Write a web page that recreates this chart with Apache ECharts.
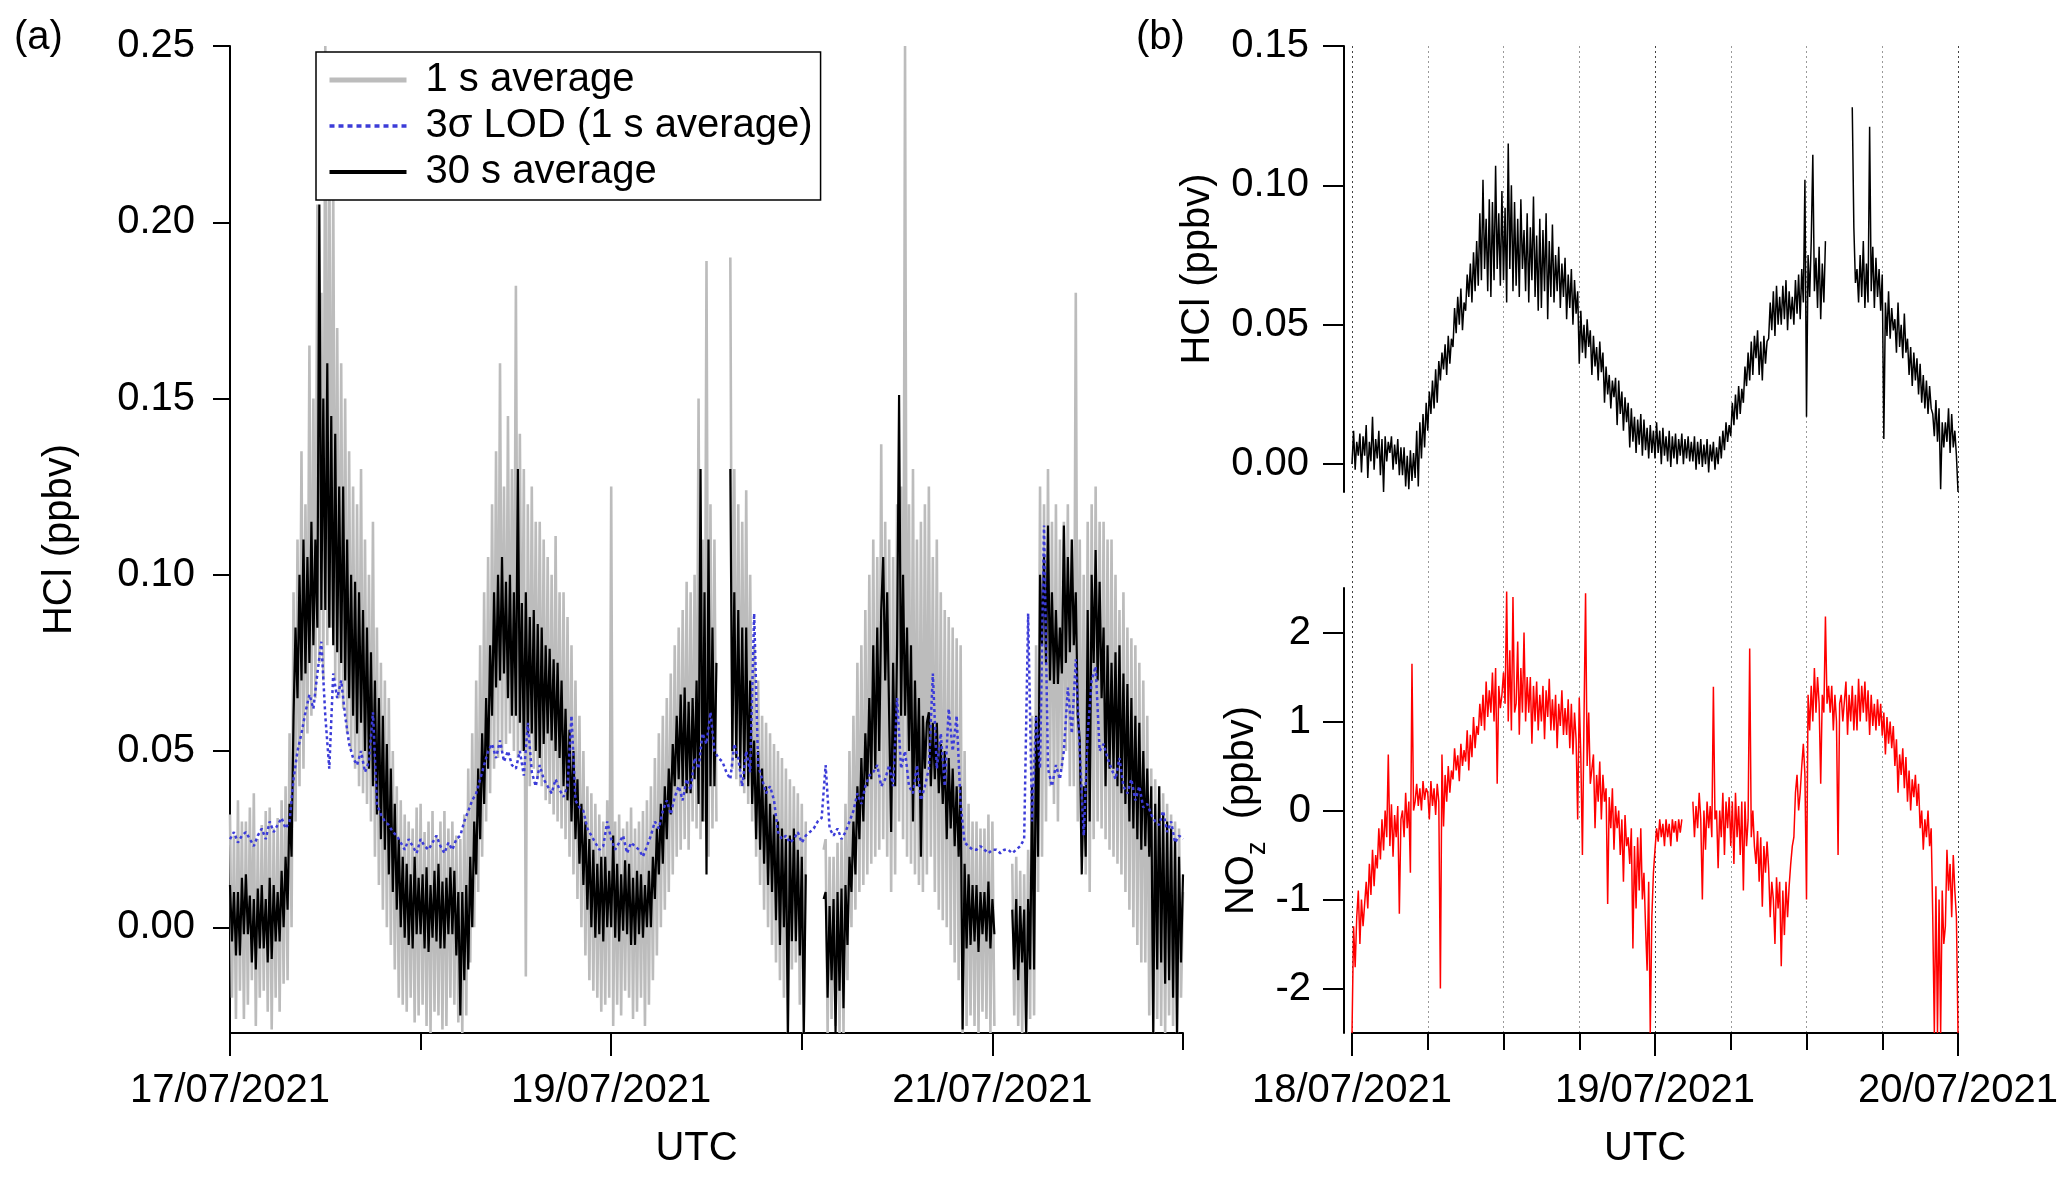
<!DOCTYPE html>
<html style="height: 100%">
<head>
    <meta charset="utf-8">
</head>
<body style="height: 100%; margin: 0; background-color: #fff;">
<div id="container" style="width: 2067px; height: 1179px;"></div>
<script type="text/javascript" src="https://cdn.jsdelivr.net/npm/echarts@6.0.0/dist/echarts.min.js"></script>
<script type="text/javascript">
// panel (a): hours after 17/07/2021 00:00 UTC
// 1 s and 30 s averages: one value every quarter hour
var stepHcl = 0.25;
var hcl1s = [
    0.032,-0.020,0.026,-0.026, 0.036,-0.018,0.030,-0.026, 0.030,-0.022,0.034,-0.015, 0.038,-0.028,0.025,-0.020, 0.029,-0.018,0.033,-0.024,
    0.034,-0.029,0.028,-0.020, 0.031,-0.024,0.036,-0.016, 0.040,-0.015,0.055,0.000, 0.095,0.030,0.110,0.040, 0.135,0.045,0.120,0.055,
    0.165,0.060,0.150,0.065, 0.205,0.075,0.180,0.070, 0.250,0.080,0.225,0.085, 0.210,0.070,0.170,0.065, 0.160,0.062,0.150,0.055,
    0.135,0.050,0.125,0.045, 0.120,0.040,0.130,0.038, 0.110,0.035,0.100,0.030, 0.115,0.020,0.085,0.012, 0.075,0.005,0.070,0.000,
    0.065,-0.005,0.050,-0.012, 0.040,-0.020,0.036,-0.022, 0.032,-0.024,0.030,-0.020, 0.028,-0.027,0.034,-0.025, 0.035,-0.022,0.027,-0.028,
    0.030,-0.030,0.033,-0.024, 0.026,-0.025,0.030,-0.029, 0.033,-0.028,0.028,-0.020, 0.030,-0.022,0.026,-0.027, 0.025,-0.030,0.032,-0.025,
    0.045,-0.010,0.055,0.000, 0.070,0.010,0.080,0.020, 0.095,0.030,0.105,0.038, 0.120,0.045,0.135,0.048, 0.160,0.050,0.125,0.052,
    0.145,0.055,0.130,0.050, 0.182,0.048,0.140,0.050, 0.130,-0.014,0.120,0.040, 0.125,0.045,0.115,0.042, 0.115,0.040,0.110,0.036,
    0.105,0.035,0.100,0.032, 0.111,0.030,0.095,0.028, 0.095,0.025,0.088,0.020, 0.080,0.015,0.070,0.008, 0.060,0.000,0.050,-0.008,
    0.040,-0.015,0.038,-0.018, 0.035,-0.020,0.032,-0.024, 0.030,-0.022,0.036,-0.020, 0.125,-0.028,0.030,-0.022, 0.032,-0.025,0.028,-0.018,
    0.030,-0.020,0.034,-0.026, 0.028,-0.024,0.030,-0.020, 0.033,-0.028,0.036,-0.022, 0.040,-0.015,0.048,-0.008, 0.055,0.000,0.060,0.005,
    0.065,0.010,0.072,0.015, 0.080,0.020,0.085,0.022, 0.090,0.025,0.098,0.022, 0.095,0.030,0.100,0.028, 0.150,0.025,0.110,0.030,
    0.189,0.020,0.120,0.028, 0.110,0.030,null,null, null,null,null,null, 0.190,0.045,0.130,0.042, 0.120,0.040,0.115,0.038,
    0.124,0.035,0.100,0.030, 0.080,0.020,0.070,0.012, 0.060,0.005,0.058,0.000, 0.055,-0.005,0.052,-0.010, 0.050,-0.015,0.048,-0.020,
    0.045,-0.030,0.042,-0.012, 0.040,-0.010,0.038,-0.022, 0.035,-0.030,0.030,null, null,null,null,null, null,null,null,0.022,
    0.025,-0.030,0.020,-0.026, 0.020,-0.028,0.024,-0.030, 0.025,-0.030,0.035,-0.015, 0.050,0.000,0.060,0.005, 0.075,0.010,0.080,0.012,
    0.090,0.015,0.100,0.018, 0.110,0.020,0.105,0.022, 0.137,0.025,0.115,0.020, 0.110,0.010,0.105,0.015, 0.120,0.030,0.125,0.025,
    0.250,0.020,0.120,0.018, 0.130,0.015,0.110,0.012, 0.115,0.010,0.120,0.015, 0.125,0.020,0.105,0.010, 0.110,0.005,0.095,0.002,
    0.090,0.000,0.088,-0.005, 0.085,-0.010,0.082,-0.015, 0.080,-0.030,0.050,-0.028, 0.035,-0.025,0.030,-0.028, 0.030,-0.030,0.028,-0.024,
    0.028,-0.026,0.032,-0.030, 0.030,-0.028,null,null, null,null,null,null, null,null,0.018,-0.025, 0.020,-0.028,0.016,-0.030,
    0.015,-0.030,0.022,-0.026, 0.060,-0.025,0.080,0.010, 0.125,0.020,0.120,0.030, 0.130,0.040,0.115,0.035, 0.120,0.030,0.110,0.045,
    0.115,0.050,0.120,0.040, 0.110,0.040,0.180,0.030, 0.110,0.020,0.100,0.015, 0.115,0.010,0.120,0.025, 0.125,0.030,0.115,0.028,
    0.115,0.025,0.110,0.022, 0.110,0.020,0.100,0.018, 0.090,0.015,0.095,0.010, 0.085,0.005,0.082,0.000, 0.080,-0.005,0.075,-0.010,
    0.070,-0.010,0.060,-0.025, 0.045,-0.030,0.042,-0.026, 0.040,-0.028,0.038,-0.030, 0.035,-0.025,0.032,-0.028, 0.030,-0.030,0.028,-0.020,
    0.010
];
var hcl30s = [
    0.012,-0.004,0.010,-0.008, 0.010,-0.008,0.014,-0.002, 0.015,-0.002,0.009,-0.010, 0.008,-0.012,0.011,-0.006, 0.012,-0.006,0.008,-0.010,
    0.014,-0.009,0.012,-0.004, 0.010,-0.004,0.016,0.000, 0.020,0.005,0.035,0.020, 0.060,0.085,0.065,0.100, 0.070,0.110,0.072,0.105,
    0.075,0.115,0.080,0.110, 0.085,0.205,0.090,0.150, 0.090,0.160,0.085,0.145, 0.080,0.140,0.078,0.125, 0.075,0.125,0.070,0.110,
    0.065,0.100,0.060,0.098, 0.055,0.095,0.058,0.090, 0.050,0.085,0.045,0.078, 0.040,0.070,0.032,0.065, 0.025,0.060,0.022,0.052,
    0.015,0.045,0.010,0.035, 0.005,0.025,0.000,0.020, -0.003,0.018,-0.005,0.015, -0.006,0.020,-0.002,0.014, -0.002,0.015,-0.006,0.017,
    -0.007,0.012,-0.003,0.016, -0.004,0.018,-0.006,0.013, -0.006,0.014,-0.002,0.017, -0.002,0.016,-0.008,0.010, -0.025,0.010,-0.015,0.012,
    -0.012,0.020,0.000,0.030, 0.015,0.045,0.025,0.055, 0.035,0.065,0.045,0.080, 0.060,0.095,0.068,0.100, 0.070,0.105,0.072,0.098,
    0.065,0.100,0.060,0.095, 0.060,0.130,0.058,0.092, 0.050,0.095,0.055,0.088, 0.055,0.090,0.050,0.086, 0.048,0.085,0.052,0.080,
    0.055,0.079,0.053,0.076, 0.050,0.075,0.048,0.070, 0.040,0.062,0.036,0.056, 0.030,0.050,0.025,0.042, 0.018,0.035,0.012,0.030,
    0.005,0.025,0.000,0.022, -0.003,0.018,-0.002,0.020, -0.004,0.020,0.000,0.016, 0.000,0.026,-0.003,0.018, -0.004,0.015,-0.001,0.019,
    -0.002,0.018,-0.005,0.014, -0.005,0.016,-0.002,0.015, -0.003,0.012,0.000,0.016, 0.000,0.020,0.008,0.028, 0.015,0.035,0.018,0.040,
    0.025,0.045,0.032,0.052, 0.040,0.060,0.042,0.066, 0.040,0.068,0.038,0.064, 0.038,0.065,0.042,0.070, 0.035,0.130,0.030,0.095,
    0.015,0.110,0.040,0.085, 0.040,0.075,null,null, null,null,null,null, 0.130,0.050,0.095,0.048, 0.090,0.045,0.085,0.042,
    0.085,0.040,0.070,0.035, 0.053,0.025,0.050,0.022, 0.045,0.018,0.040,0.012, 0.035,0.010,0.032,0.002, 0.030,-0.005,0.028,0.000,
    0.025,-0.030,0.026,-0.004, 0.028,-0.004,0.022,-0.008, 0.020,-0.030,0.015,null, null,null,null,null, null,null,null,0.008,
    0.010,-0.020,0.006,-0.015, 0.008,-0.030,0.010,-0.018, 0.011,-0.023,0.012,-0.005, 0.020,0.010,0.030,0.015, 0.040,0.025,0.048,0.030,
    0.055,0.040,0.065,0.042, 0.080,0.045,0.085,0.050, 0.090,0.105,0.070,0.095, 0.060,0.027,0.075,0.040, 0.080,0.151,0.060,0.100,
    0.060,0.085,0.050,0.080, 0.030,0.070,0.040,0.065, 0.020,0.060,0.045,0.058, 0.061,0.040,0.058,0.042, 0.058,0.038,0.052,0.035,
    0.050,0.025,0.048,0.028, 0.045,0.023,0.040,0.020, 0.040,-0.029,0.018,-0.006, 0.015,-0.005,0.012,-0.004, 0.012,-0.007,0.010,-0.002,
    0.010,-0.004,0.013,-0.006, 0.008,-0.002,null,null, null,null,null,null, null,null,0.005,-0.012, 0.008,-0.015,0.006,-0.010,
    0.005,-0.030,0.008,-0.012, 0.040,-0.012,0.060,0.020, 0.100,0.080,0.105,0.075, 0.114,0.070,0.095,0.069, 0.090,0.069,0.085,0.072,
    0.114,0.075,0.105,0.078, 0.110,0.080,0.095,0.060, 0.053,0.015,0.040,0.020, 0.090,0.030,0.100,0.075, 0.107,0.070,0.098,0.065,
    0.085,0.040,0.080,0.045, 0.075,0.045,0.078,0.040, 0.080,0.038,0.072,0.035, 0.069,0.030,0.065,0.028, 0.060,0.025,0.058,0.022,
    0.050,0.023,0.045,0.020, 0.040,-0.030,0.035,-0.012, 0.040,-0.010,0.032,-0.016, 0.030,-0.015,0.028,-0.020, 0.025,-0.030,0.020,-0.010,
    0.015
];
// 3 sigma LOD: one value every half hour
var stepLod = 0.5;
var lod3s = [
    0.025,0.027, 0.024,0.026, 0.027,0.025, 0.023,0.026, 0.028,0.025,
    0.030,0.027, 0.029,0.031, 0.028,0.030, 0.042,0.050, 0.055,0.061,
    0.066,0.062, 0.072,0.081, 0.060,0.045, 0.072,0.065, 0.070,0.060,
    0.052,0.048, 0.046,0.050, 0.044,0.047, 0.061,0.035, 0.032,0.030,
    0.029,0.027, 0.026,0.024, 0.022,0.025, 0.023,0.021, 0.025,0.023,
    0.022,0.024, 0.026,0.023, 0.021,0.024, 0.022,0.025, 0.026,0.030,
    0.033,0.036, 0.038,0.042, 0.046,0.050, 0.052,0.048, 0.053,0.047,
    0.050,0.046, 0.045,0.050, 0.043,0.058, 0.044,0.040, 0.046,0.042,
    0.040,0.038, 0.042,0.039, 0.037,0.040, 0.060,0.036, 0.034,0.033,
    0.028,0.026, 0.024,0.022, 0.023,0.030, 0.025,0.022, 0.024,0.026,
    0.021,0.024, 0.023,0.022, 0.020,0.023, 0.026,0.030, 0.028,0.033,
    0.036,0.032, 0.037,0.040, 0.036,0.042, 0.039,0.048, 0.045,0.055,
    0.052,0.061, 0.050,0.048, 0.047,0.044, 0.042,0.052, 0.048,0.040,
    0.050,0.044, 0.089,0.046, 0.042,0.038, 0.040,0.036, 0.027,0.025,
    0.026,0.024, 0.025,0.027, 0.024,0.026, 0.027,0.028, 0.030,0.031,
    0.046,0.028, 0.026,0.028, 0.025,0.027, 0.030,0.033, 0.038,0.035,
    0.040,0.043, 0.044,0.046, 0.040,0.042, 0.046,0.040, 0.065,0.045,
    0.050,0.040, 0.038,0.046, 0.036,0.040, 0.045,0.072, 0.045,0.055,
    0.040,0.062, 0.050,0.060, 0.035,0.024, 0.023,0.022, 0.022,0.023,
    0.022,0.021, 0.022,0.022, 0.021,0.022, 0.022,0.021, 0.022,0.023,
    0.025,0.089, 0.030,0.060, 0.045,0.114, 0.045,0.040, 0.046,0.042,
    0.050,0.068, 0.055,0.076, 0.050,0.026, 0.055,0.070, 0.074,0.050,
    0.052,0.048, 0.045,0.042, 0.048,0.040, 0.038,0.042, 0.036,0.040,
    0.034,0.035, 0.032,0.030, 0.029,0.033, 0.027,0.030, 0.024,0.026,
    0.025
];

// panel (b): hours after 18/07/2021 00:00 UTC, 8 values per hour
var stepB = 0.125;
var hclB = [
    0.000,0.012,-0.002,0.008,0.003,0.011,-0.003,0.010, 0.003,0.014,-0.005,0.008,0.001,0.017,-0.002,0.009,
    0.002,0.012,-0.004,0.009,-0.010,0.010,0.001,0.008, 0.004,0.010,-0.002,0.007,0.000,0.009,-0.004,0.006,
    -0.004,0.006,-0.008,0.003,-0.009,0.005,-0.006,0.004, -0.005,0.012,-0.008,0.015,0.002,0.018,0.006,0.022,
    0.012,0.026,0.018,0.030,0.020,0.034,0.022,0.037, 0.030,0.040,0.034,0.043,0.032,0.046,0.036,0.045,
    0.042,0.056,0.047,0.060,0.050,0.063,0.048,0.058, 0.055,0.068,0.060,0.072,0.058,0.076,0.062,0.080,
    0.064,0.090,0.066,0.102,0.070,0.088,0.062,0.095, 0.060,0.094,0.066,0.107,0.070,0.090,0.064,0.098,
    0.066,0.092,0.058,0.115,0.070,0.100,0.062,0.094, 0.064,0.088,0.060,0.095,0.070,0.084,0.062,0.090,
    0.058,0.085,0.066,0.096,0.060,0.082,0.055,0.088, 0.056,0.084,0.062,0.090,0.052,0.080,0.060,0.086,
    0.058,0.075,0.062,0.078,0.056,0.072,0.060,0.074, 0.052,0.068,0.056,0.070,0.050,0.066,0.054,0.062,
    0.036,0.055,0.040,0.050,0.038,0.052,0.042,0.048, 0.032,0.046,0.035,0.042,0.030,0.044,0.033,0.040,
    0.022,0.035,0.025,0.032,0.020,0.030,0.024,0.031, 0.014,0.030,0.018,0.026,0.012,0.024,0.015,0.022,
    0.006,0.020,0.008,0.017,0.004,0.016,0.007,0.018, 0.003,0.016,0.005,0.013,0.002,0.014,0.004,0.012,
    0.002,0.015,0.004,0.012,0.000,0.013,0.003,0.010, 0.001,0.012,-0.001,0.010,0.002,0.011,0.000,0.009,
    0.003,0.011,0.000,0.009,0.002,0.010,0.001,0.008, 0.001,0.010,-0.002,0.008,0.000,0.009,-0.001,0.007,
    0.000,0.009,-0.003,0.007,0.001,0.008,-0.002,0.006, 0.000,0.010,0.002,0.012,0.005,0.015,0.008,0.014,
    0.010,0.022,0.014,0.025,0.016,0.028,0.018,0.027, 0.022,0.035,0.028,0.040,0.030,0.044,0.032,0.046,
    0.038,0.048,0.032,0.044,0.030,0.046,0.036,0.044, 0.045,0.058,0.048,0.062,0.046,0.064,0.050,0.060,
    0.050,0.064,0.052,0.066,0.048,0.062,0.052,0.060, 0.050,0.066,0.054,0.068,0.052,0.070,0.058,0.102,
    0.017,0.075,0.060,0.080,0.111,0.062,0.074,0.056, 0.078,0.052,0.072,0.058,0.080,null,null,null,
    null,null,null,null,null,null,null,null, null,null,null,null,null,0.128,0.085,0.065,
    0.070,0.058,0.075,0.060,0.080,0.056,0.072,0.058, 0.121,0.062,0.078,0.056,0.074,0.060,0.070,0.055,
    0.068,0.009,0.058,0.046,0.062,0.045,0.056,0.048, 0.052,0.040,0.058,0.042,0.050,0.038,0.054,0.040,
    0.045,0.032,0.042,0.028,0.040,0.030,0.038,0.025, 0.036,0.022,0.032,0.020,0.030,0.018,0.028,0.020,
    0.018,0.010,0.023,0.008,0.020,-0.009,0.015,0.006, 0.015,0.008,0.020,0.004,0.018,0.006,0.012,0.003,
    -0.010
];
var noz = [
    -2.50,-1.30,-1.76,-1.20,-0.90,-1.50,-1.00,-1.30, -1.29,-0.80,-1.10,-0.60,-0.95,-0.44,-0.85,-0.50,
    -0.65,-0.20,-0.55,-0.10,-0.45,0.00,-0.30,0.63, -0.40,0.07,-0.52,-0.05,-0.30,0.05,-1.16,-0.10,
    0.00,-0.30,0.20,-0.20,0.10,-0.70,1.65,0.00, 0.10,0.30,0.05,0.25,0.00,0.33,0.12,0.25,
    0.20,-0.10,0.33,0.05,0.25,-0.05,0.30,0.10, -2.00,0.63,-0.18,0.40,0.10,0.50,0.20,0.45,
    0.35,0.70,0.45,0.62,0.33,0.75,0.50,0.68, 0.55,0.90,0.45,0.85,0.60,1.05,0.70,0.95,
    0.85,1.20,0.95,1.30,0.90,1.45,1.05,1.35, 1.10,1.55,1.00,1.60,0.30,1.40,1.15,1.30,
    1.55,1.20,2.46,1.00,1.80,0.90,2.40,1.10, 1.20,1.90,0.85,1.60,1.10,2.00,1.00,1.50,
    1.10,1.50,0.75,1.40,1.00,1.45,0.90,1.30, 1.00,1.40,0.80,1.35,1.05,1.48,0.90,1.25,
    0.90,1.30,0.70,1.20,0.95,1.35,0.85,1.15, 0.85,1.25,0.70,1.20,0.63,1.10,0.80,-0.10,
    1.27,0.60,-0.50,1.00,2.44,0.50,1.10,0.30, 0.30,0.63,-0.20,0.40,0.10,0.55,-0.10,0.40,
    0.10,0.25,-1.05,0.15,-0.20,0.25,-0.44,0.05, -0.20,0.00,-0.50,-0.10,-0.80,-0.05,-0.40,-0.30,
    -0.60,-0.20,-1.55,-0.40,-1.10,-0.30,-0.90,-0.20, -1.00,-0.70,-1.30,-1.80,-0.80,-2.50,-1.20,-0.70,
    -0.44,-0.20,-0.35,-0.10,-0.30,-0.15,-0.40,-0.10, -0.30,-0.15,-0.40,-0.10,-0.25,-0.12,-0.35,-0.10,
    -0.25,-0.10,null,null,null,null,null,null, 0.10,-0.30,0.05,-0.20,0.20,-0.10,-1.00,0.00,
    -0.44,0.10,-0.20,0.05,-0.30,1.39,-0.10,0.00, -0.65,0.00,-0.30,0.20,-0.50,0.10,-0.20,0.15,
    -0.40,0.10,-0.60,0.20,-0.30,0.05,-0.50,0.10, -0.90,0.10,-0.40,-0.10,1.82,-0.30,0.00,-0.40,
    -0.60,-0.23,-0.80,-0.30,-1.08,-0.40,-0.70,-0.35, -0.65,-1.20,-0.80,-1.00,-1.50,-0.75,-1.10,-0.80,
    -1.75,-0.90,-1.40,-0.80,-1.20,-0.85,-0.60,-0.40, -0.30,0.20,0.40,0.00,0.20,0.50,0.75,0.40,
    -1.00,1.30,0.90,1.40,1.00,1.60,1.10,1.50, 1.20,0.30,1.30,1.10,2.18,1.20,1.40,1.10,
    1.40,0.90,1.30,1.00,-0.50,1.20,1.30,1.00, 1.00,1.45,0.85,1.30,1.00,1.40,0.90,1.30,
    0.90,1.48,1.00,1.40,1.10,1.45,1.00,1.35, 0.85,1.30,0.95,1.20,0.90,1.25,0.95,1.20,
    0.84,1.10,0.63,1.05,0.75,1.00,0.70,0.95, 0.50,0.80,0.20,0.63,0.40,0.70,0.25,0.60,
    0.10,0.45,0.00,0.35,0.15,0.40,0.05,0.30, -0.20,0.00,-0.44,-0.10,-0.30,0.00,-0.40,-0.20,
    -1.20,-2.50,-0.85,-2.50,-1.00,-2.50,-0.90,-1.50, -1.30,-0.44,-0.90,-0.60,-1.20,-0.50,-0.90,-1.20,
    -2.50
];

// tick positions (hours) and labels
var majorA = [0, 48, 96];
var minorA = [24, 72, 120];
var dayLabelsA = ['17/07/2021', '19/07/2021', '21/07/2021'];
var majorB = [0, 24, 48];
var minorB = [6, 12, 18, 30, 36, 42];
var dayLabelsB = ['18/07/2021', '19/07/2021', '20/07/2021'];
var ticksA = [0, 0.05, 0.10, 0.15, 0.20, 0.25];
var ticksHclB = [0, 0.05, 0.10, 0.15];
var ticksNoz = [-2, -1, 0, 1, 2];

function toPairs(step, vals) {
    return vals.map(function (v, i) { return [i * step, v]; });
}

var font = 'Liberation Sans, Arial, sans-serif';
var black = '#000';

function labelFor(ticks, labels) {
    return function (v) {
        for (var i = 0; i < ticks.length; i++) {
            if (Math.abs(ticks[i] - v) < 1e-6) return labels[i];
        }
        return '';
    };
}

function timeAxis(grid, max, major, labels, withName) {
    return {
        type: 'value', gridIndex: grid, min: 0, max: max, position: 'bottom',
        axisLine: {show: true, onZero: false, lineStyle: {color: black, width: 2}},
        axisTick: {show: true, customValues: major, length: 23, lineStyle: {color: black, width: 2}},
        axisLabel: {show: true, customValues: major, formatter: labelFor(major, labels),
            margin: 38, fontSize: 40, color: black, fontFamily: font},
        splitLine: {show: false},
        name: withName ? 'UTC' : '', nameLocation: 'middle', nameGap: 96,
        nameTextStyle: {fontSize: 40, color: black, fontFamily: font, padding: [0, 20, 0, 0]}
    };
}

function minorAxis(grid, max, minor) {
    return {
        type: 'value', gridIndex: grid, min: 0, max: max, position: 'bottom',
        axisLine: {show: false, onZero: false},
        axisTick: {show: true, customValues: minor, length: 17, lineStyle: {color: black, width: 2}},
        axisLabel: {show: false},
        splitLine: {show: false}
    };
}

function valueAxis(grid, min, max, ticks, digits, offset, tickLen, margin, name, nameGap) {
    return {
        type: 'value', gridIndex: grid, min: min, max: max, offset: offset,
        axisLine: {show: true, onZero: false, lineStyle: {color: black, width: 2}},
        axisTick: {show: true, customValues: ticks, length: tickLen, lineStyle: {color: black, width: 2}},
        axisLabel: {customValues: ticks, margin: margin, fontSize: 40, color: black, fontFamily: font,
            formatter: function (v) { return v.toFixed(digits); }},
        splitLine: {show: false},
        name: name, nameLocation: 'middle', nameGap: nameGap, nameRotate: 90,
        nameTextStyle: {fontSize: 40, color: black, fontFamily: font,
            rich: {m: {fontSize: 40, fontFamily: font, color: black},
                   s: {fontSize: 27, fontFamily: font, color: black, verticalAlign: 'bottom', padding: [0, 0, -10, 0]}}}
    };
}

var chart = echarts.init(document.getElementById('container'));

var hideDot = {opacity: 0};

var option = {
    animation: false,
    backgroundColor: '#fff',
    textStyle: {fontFamily: font},
    grid: [
        {left: 230, top: 46, width: 953, height: 987},
        {left: 1352, top: 46, width: 606, height: 446},
        {left: 1352, top: 588, width: 606, height: 445},
        {left: 1352, top: 46, width: 606, height: 987}
    ],
    xAxis: [
        timeAxis(0, 120, majorA, dayLabelsA, true),
        minorAxis(0, 120, minorA),
        {type: 'value', gridIndex: 1, min: 0, max: 48, show: false},
        timeAxis(2, 48, majorB, dayLabelsB, true),
        minorAxis(2, 48, minorB),
        {type: 'value', gridIndex: 3, min: 0, max: 48, interval: 6,
            axisLine: {show: false, onZero: false}, axisTick: {show: false}, axisLabel: {show: false},
            splitLine: {show: true, lineStyle: {color: '#9a9a9a', width: 1, type: [2, 3]}}},
        {type: 'value', gridIndex: 3, min: 0, max: 48, interval: 24,
            axisLine: {show: false, onZero: false}, axisTick: {show: false}, axisLabel: {show: false},
            splitLine: {show: true, lineStyle: {color: '#444', width: 1, type: [2, 3]}}}
    ],
    yAxis: [
        valueAxis(0, -0.03, 0.25, ticksA, 2, 0, 17, 35, 'HCl (ppbv)', 150),
        valueAxis(1, -0.01, 0.15, ticksHclB, 2, 8, 21, 35, 'HCl (ppbv)', 126),
        valueAxis(2, -2.5, 2.5, ticksNoz, 0, 8, 21, 33, '{m|NO}{s|z}{m|  (ppbv)}', 80),
        {type: 'value', gridIndex: 3, min: 0, max: 1, show: false}
    ],
    legend: {
        orient: 'vertical', left: 316, top: 52,
        data: [
            {name: '1 s average', lineStyle: {width: 5}, itemStyle: hideDot},
            {name: '3\u03c3 LOD (1 s average)', lineStyle: {width: 3.5, type: [5, 4]}, itemStyle: hideDot},
            {name: '30 s average', lineStyle: {width: 4}, itemStyle: hideDot}
        ],
        backgroundColor: '#fff', borderColor: black, borderWidth: 1.5,
        padding: [8, 8, 8, 11], itemWidth: 77, itemHeight: 14, itemGap: 6,
        textStyle: {fontSize: 40, lineHeight: 40, color: black, fontFamily: font, padding: [0, 0, 0, 14]}
    },
    graphic: [
        {type: 'text', left: 14, top: 18, style: {text: '(a)', fontSize: 40, fontFamily: font, fill: black}},
        {type: 'text', left: 1136, top: 18, style: {text: '(b)', fontSize: 40, fontFamily: font, fill: black}}
    ],
    series: [
        {name: '1 s average', type: 'line', xAxisIndex: 0, yAxisIndex: 0, z: 2,
            data: toPairs(stepHcl, hcl1s), showSymbol: false, symbol: 'none', connectNulls: false,
            color: '#bcbcbc', lineStyle: {color: '#bcbcbc', width: 2.6}},
        {name: '30 s average', type: 'line', xAxisIndex: 0, yAxisIndex: 0, z: 3,
            data: toPairs(stepHcl, hcl30s), showSymbol: false, symbol: 'none', connectNulls: false,
            color: '#000', lineStyle: {color: '#000', width: 2.2}},
        {name: '3\u03c3 LOD (1 s average)', type: 'line', xAxisIndex: 0, yAxisIndex: 0, z: 4,
            data: toPairs(stepLod, lod3s), showSymbol: false, symbol: 'none',
            color: '#3c3cd8', lineStyle: {color: '#3c3cd8', width: 2.5, type: [3, 3]}},
        {name: 'HCl 18-20 July', type: 'line', xAxisIndex: 2, yAxisIndex: 1, z: 3,
            data: toPairs(stepB, hclB), showSymbol: false, symbol: 'none', connectNulls: false,
            lineStyle: {color: '#000', width: 1.5}},
        {name: 'NOz 18-20 July', type: 'line', xAxisIndex: 3, yAxisIndex: 2, z: 3,
            data: toPairs(stepB, noz), showSymbol: false, symbol: 'none', connectNulls: false,
            lineStyle: {color: '#ff0000', width: 1.5}}
    ]
};

chart.setOption(option);
</script>
</body>
</html>
